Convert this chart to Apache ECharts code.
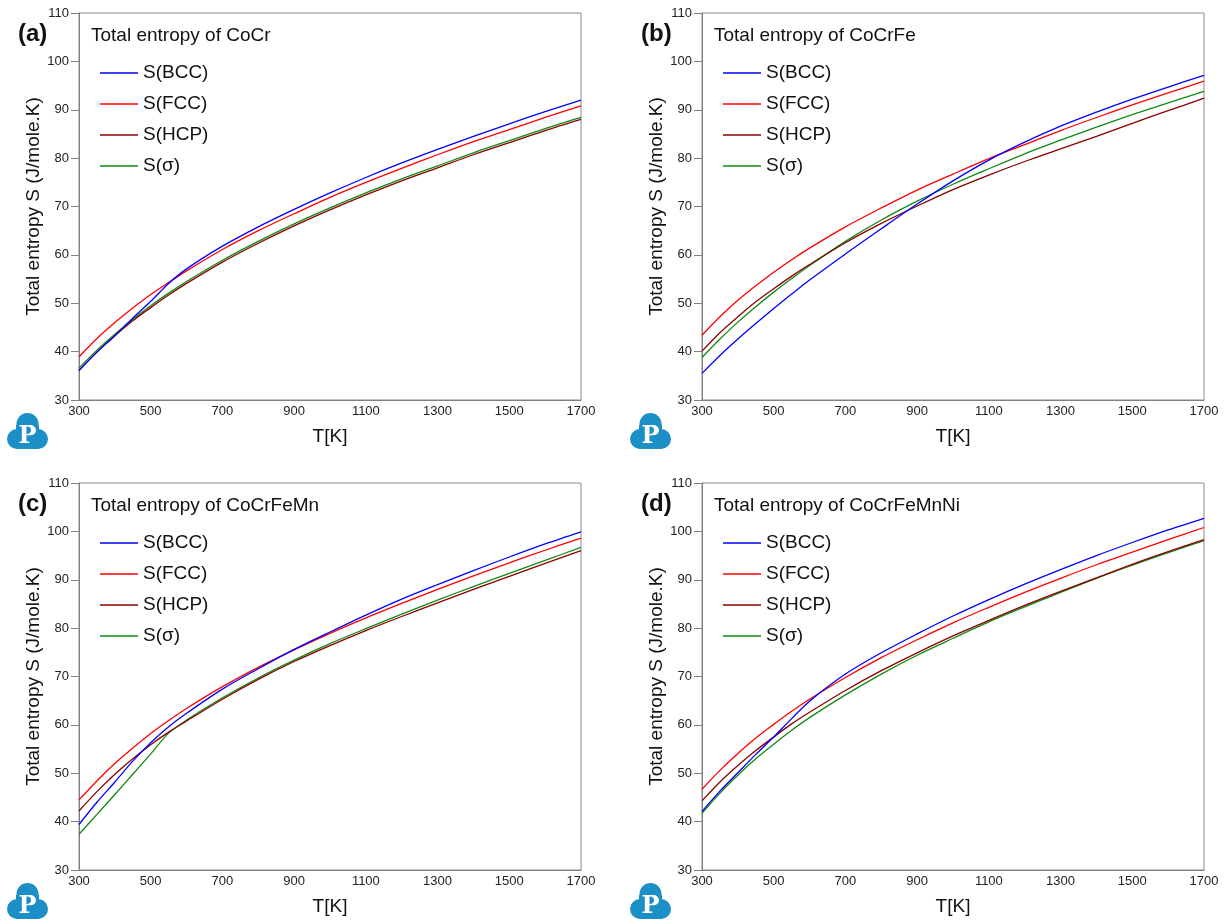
<!DOCTYPE html>
<html>
<head>
<meta charset="utf-8">
<script src="https://cdn.jsdelivr.net/npm/echarts@6/dist/echarts.min.js"></script>
<style>
html,body{margin:0;padding:0;background:#fff;}
#chart{width:1228px;height:924px;}
</style>
</head>
<body>
<div id="chart"></div>
<script>
// Temperature grid (K)
const T = [300,350,400,450,500,550,600,700,800,900,1000,1100,1200,1300,1400,1500,1600,1700];

// (a) CoCr
const a_BCC = [36.1,39.9,43.3,46.9,50.4,54.1,57.1,61.8,65.8,69.4,72.8,76.0,79.0,81.8,84.5,87.1,89.6,92.0];
const a_FCC = [38.9,42.7,46.0,49.0,51.8,54.3,56.7,61.1,65.0,68.5,71.9,75.0,77.9,80.7,83.4,85.9,88.4,90.8];
const a_HCP = [36.1,39.9,43.3,46.4,49.1,51.7,54.1,58.5,62.4,66.0,69.3,72.4,75.3,78.0,80.7,83.2,85.7,88.0];
const a_SIG = [36.6,40.3,43.6,46.7,49.5,52.1,54.5,58.9,62.8,66.4,69.7,72.8,75.7,78.4,81.1,83.6,86.1,88.4];

// (b) CoCrFe
const b_BCC = [35.5,39.2,42.6,45.8,48.9,51.9,54.8,60.2,65.4,70.5,75.3,79.6,83.3,86.6,89.5,92.2,94.7,97.1];
const b_FCC = [43.4,47.2,50.6,53.6,56.4,59.0,61.4,65.8,69.7,73.4,76.7,79.9,82.8,85.7,88.4,91.0,93.5,95.9];
const b_HCP = [40.1,43.9,47.2,50.3,53.0,55.6,58.0,62.5,66.5,70.1,73.5,76.5,79.3,81.9,84.5,87.2,89.8,92.4];
const b_SIG = [38.8,42.6,46.1,49.3,52.3,55.1,57.8,62.8,67.2,71.1,74.6,77.8,80.9,83.7,86.4,89.0,91.4,93.8];

// (c) CoCrFeMn
const c_BCC = [39.4,44.0,48.2,52.5,56.3,59.6,62.4,67.4,71.6,75.6,79.2,82.7,86.0,89.0,91.9,94.7,97.4,99.9];
const c_FCC = [44.5,48.4,52.0,55.2,58.2,60.9,63.4,67.9,71.9,75.5,78.9,82.1,85.1,88.0,90.8,93.5,96.1,98.6];
const c_HCP = [42.2,46.2,49.8,53.0,55.9,58.5,60.8,65.3,69.4,73.1,76.4,79.5,82.4,85.2,88.0,90.7,93.4,96.0];
const c_SIG = [37.4,41.5,45.6,49.8,54.0,58.3,61.0,65.6,69.7,73.4,76.8,79.9,82.9,85.8,88.6,91.3,94.0,96.7];

// (d) CoCrFeMnNi
const d_BCC = [42.1,46.3,50.1,53.9,57.5,61.3,64.9,70.5,74.9,78.8,82.5,85.9,89.1,92.1,95.0,97.7,100.3,102.7];
const d_FCC = [46.7,50.6,54.1,57.3,60.1,62.8,65.3,69.8,73.9,77.6,81.1,84.3,87.4,90.3,93.1,95.7,98.3,100.8];
const d_HCP = [44.3,48.2,51.6,54.7,57.5,60.2,62.6,67.1,71.2,74.9,78.4,81.6,84.7,87.6,90.4,93.2,95.8,98.3];
const d_SIG = [41.7,45.9,49.6,53.0,56.0,58.9,61.5,66.2,70.5,74.4,77.9,81.3,84.4,87.4,90.3,93.0,95.6,98.1];

const phaseNames = ['S(BCC)','S(FCC)','S(HCP)','S(\u03c3)'];
const phaseColors = ['#0000ff','#ff0000','#8b0000','#118a11'];
const panelLabels = ['(a)','(b)','(c)','(d)'];
const panelTitles = ['Total entropy of CoCr','Total entropy of CoCrFe','Total entropy of CoCrFeMn','Total entropy of CoCrFeMnNi'];
const panelData = [
  [a_BCC,a_FCC,a_HCP,a_SIG],
  [b_BCC,b_FCC,b_HCP,b_SIG],
  [c_BCC,c_FCC,c_HCP,c_SIG],
  [d_BCC,d_FCC,d_HCP,d_SIG]
];
const yName = 'Total entropy S (J/mole.K)';
const xName = 'T[K]';

const FONT = '"Liberation Sans", Arial, sans-serif';
const gridPos = [
  {left:79, top:13},
  {left:702, top:13},
  {left:79, top:483},
  {left:702, top:483}
];
const GW = 502, GH = 387;

const grids = [], xAxes = [], yAxes = [], series = [], legends = [], graphics = [];
gridPos.forEach((g, i) => {
  grids.push({left:g.left, top:g.top, width:GW, height:GH, show:true, borderColor:'#8c8c8c', borderWidth:1, backgroundColor:'transparent'});
  xAxes.push({
    type:'value', gridIndex:i, min:300, max:1700, interval:200,
    name:xName, nameLocation:'middle', nameGap:27,
    nameTextStyle:{fontSize:19, color:'#111', fontFamily:FONT},
    axisLine:{show:true, lineStyle:{color:'#808080', width:1}},
    axisTick:{show:false},
    splitLine:{show:false},
    axisLabel:{fontSize:13, color:'#222', fontFamily:FONT, margin:5, formatter:(v) => String(v)}
  });
  yAxes.push({
    type:'value', gridIndex:i, min:30, max:110, interval:10,
    name:yName, nameLocation:'middle', nameGap:32, nameRotate:90,
    nameTextStyle:{fontSize:19, color:'#111', fontFamily:FONT},
    axisLine:{show:true, lineStyle:{color:'#808080', width:1}},
    axisTick:{show:true, inside:false, length:8, lineStyle:{color:'#808080'}},
    splitLine:{show:false},
    axisLabel:{fontSize:13, color:'#222', fontFamily:FONT, margin:10, formatter:(v) => String(v)}
  });
  panelData[i].forEach((arr, k) => {
    series.push({
      type:'line', name:phaseNames[k], xAxisIndex:i, yAxisIndex:i,
      data:T.map((t, j) => [t, arr[j]]),
      showSymbol:false, symbol:'none', smooth:0.3,
      lineStyle:{color:phaseColors[k], width:1.3},
      itemStyle:{color:phaseColors[k]},
      z:10-k
    });
  });
  const lx = g.left + 21, ly = g.top + 50;
  legends.push({
    show:true, orient:'vertical', left:lx, top:ly,
    data:phaseNames, icon:'rect', itemWidth:38, itemHeight:1.5, itemGap:11,
    selectedMode:false, padding:0,
    textStyle:{fontSize:19, color:'#111', fontFamily:FONT, lineHeight:20}
  });
  graphics.push({type:'text', left:g.left - 61, top:g.top + 9,
    style:{text:panelLabels[i], font:'bold 24px ' + FONT, fill:'#111'}});
  graphics.push({type:'text', left:g.left + 12, top:g.top + 13,
    style:{text:panelTitles[i], font:'19px ' + FONT, fill:'#111'}});
  const ox = g.left - 72, oy = g.top + GH + 13;
  graphics.push({type:'group', left:ox, top:oy, children:[
    {type:'circle', shape:{cx:20.5, cy:11, r:11}, style:{fill:'#1c8fc7'}},
    {type:'circle', shape:{cx:10, cy:26, r:10}, style:{fill:'#1c8fc7'}},
    {type:'circle', shape:{cx:31, cy:26, r:10}, style:{fill:'#1c8fc7'}},
    {type:'rect', shape:{x:9, y:12, width:23, height:24}, style:{fill:'#1c8fc7'}},
    {type:'text', x:20.5, y:24, style:{text:'P', font:'bold 24px "DejaVu Serif", "Liberation Serif", serif', fill:'#ffffff', align:'center', verticalAlign:'middle'}}
  ]});
});

const chart = echarts.init(document.getElementById('chart'), null, {renderer:'canvas'});
chart.setOption({
  animation:false,
  backgroundColor:'#ffffff',
  grid:grids, xAxis:xAxes, yAxis:yAxes, series:series, legend:legends,
  graphic:graphics
});
</script>
</body>
</html>
